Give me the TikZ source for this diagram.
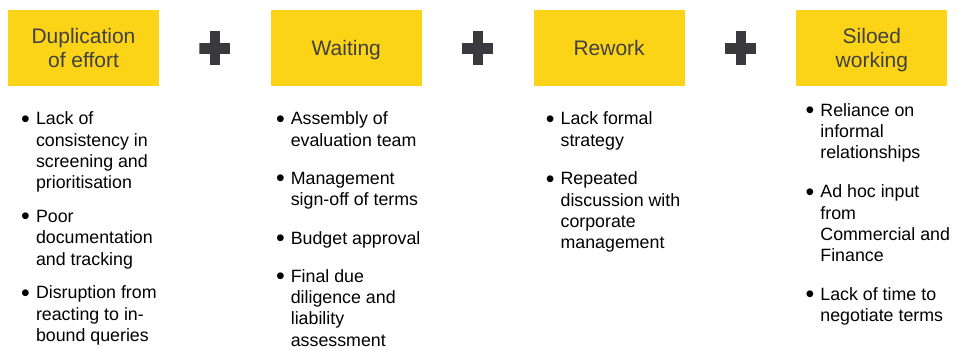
\documentclass[tikz,border=0pt]{standalone}
\usepackage{fontspec}
\setmainfont{Liberation Sans}
\usepackage{tikz}
\usetikzlibrary{positioning}
\definecolor{wasteyellow}{HTML}{FCD417}
\definecolor{boxtext}{HTML}{404040}
\definecolor{plusgrey}{HTML}{3A3A3E}
\tikzset{%
  waste/.style = {rectangle,fill=wasteyellow,text=boxtext,align=center,
        minimum width=151pt,minimum height=76pt,inner sep=0pt,text depth=0pt,
        font=\fontsize{21}{24.5}\selectfont},
  plus/.style = {rectangle,minimum width=31pt,minimum height=34pt,inner sep=0pt,
        path picture={
          \fill[plusgrey] ([xshift=-5pt]path picture bounding box.north)
            rectangle ([xshift=5pt]path picture bounding box.south);
          \fill[plusgrey] ([yshift=5.5pt]path picture bounding box.west)
            rectangle ([yshift=-5.5pt]path picture bounding box.east);
        }},
  causes/.style = {align=left,inner sep=0pt,text=black,
        font=\fontsize{17.8}{21.3}\selectfont}
}
\newcommand{\bul}{\makebox[14pt][l]{\hspace*{-0.8pt}\raisebox{-2.4pt}{\scalebox{1.4}{\textbullet}}}}
\newcommand{\ind}{\hspace*{14pt}}

\begin{document}
\begin{tikzpicture}[x=1pt,y=1pt]
    \useasboundingbox (0,0) rectangle (957,-349);
    % the four kinds of waste
    \node[waste] (dup) at (83.5,-48) {Duplication\\of effort};
    \node[plus, right=40pt of dup] (p1) {};
    \node[waste, right=40pt of p1] (wait) {Waiting};
    \node[plus, right=40pt of wait] (p2) {};
    \node[waste, right=40pt of p2] (rework) {Rework};
    \node[plus, right=40pt of rework] (p3) {};
    \node[waste, right=40pt of p3] (silo) {Siloed\\working};
    % what causes them
    \node[causes, below right=25.5pt and 14pt of dup.south west] (dupcauses) {%
        \bul Lack of\\ \ind consistency in\\ \ind screening and\\ \ind prioritisation\\[12.5pt]
        \bul Poor\\ \ind documentation\\ \ind and tracking\\[12.5pt]
        \bul Disruption from\\ \ind reacting to in-\\ \ind bound queries};
    \node[causes, below right=25.5pt and 6pt of wait.south west] (waitcauses) {%
        \bul Assembly of\\ \ind evaluation team\\[17pt]
        \bul Management\\ \ind sign-off of terms\\[17pt]
        \bul Budget approval\\[17pt]
        \bul Final due\\ \ind diligence and\\ \ind liability\\ \ind assessment};
    \node[causes, below right=25.5pt and 13pt of rework.south west] (reworkcauses) {%
        \bul Lack formal\\ \ind strategy\\[17.5pt]
        \bul Repeated\\ \ind discussion with\\ \ind corporate\\ \ind management};
    \node[causes, below right=17pt and 10pt of silo.south west] (silocauses) {%
        \bul Reliance on\\ \ind informal\\ \ind relationships\\[17.5pt]
        \bul Ad hoc input\\ \ind from\\ \ind Commercial and\\ \ind Finance\\[17.5pt]
        \bul Lack of time to\\ \ind negotiate terms};
\end{tikzpicture}
\end{document}
